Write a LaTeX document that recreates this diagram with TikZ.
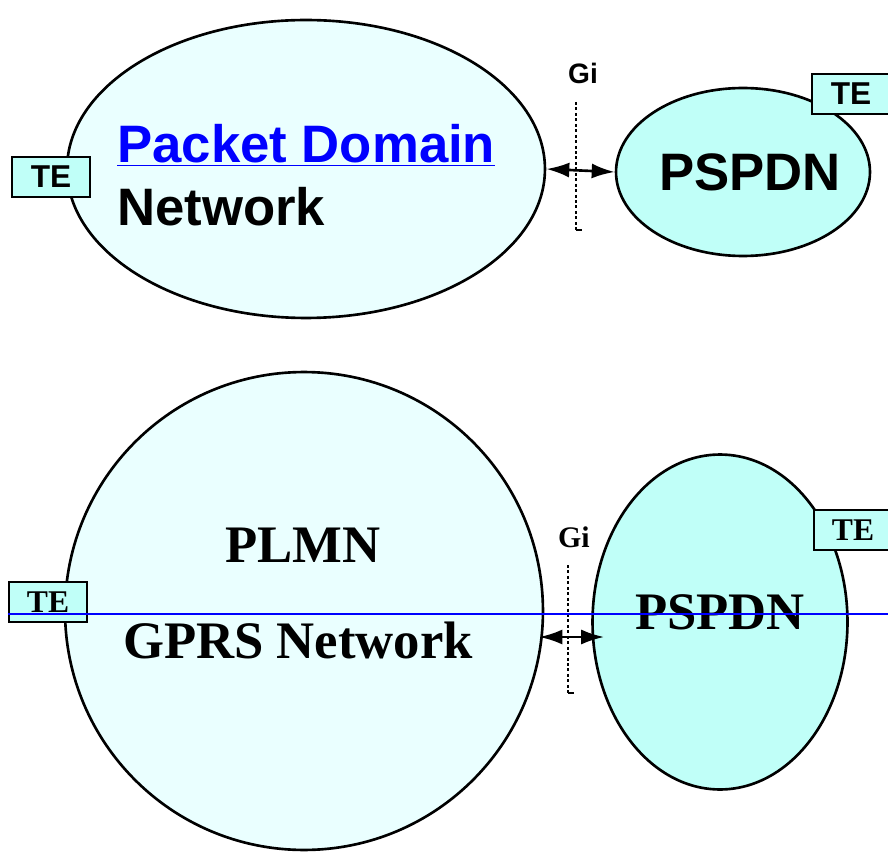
\documentclass[tikz,border=0pt]{standalone}
\usepackage{fontspec}
\setmainfont{Liberation Serif}
\setsansfont{Liberation Sans}
\usetikzlibrary{arrows.meta, positioning, shapes.geometric, calc}
\definecolor{netfill}{RGB}{234,255,255}
\definecolor{pdnfill}{RGB}{192,255,248}

\begin{document}
\begin{tikzpicture}[x=0.02cm, y=-0.02cm,
    net/.style={ellipse, draw, line width=1.5pt, fill=netfill, inner sep=0},
    pdn/.style={ellipse, draw, line width=1.5pt, fill=pdnfill, inner sep=0},
    tebox/.style={draw, line width=1.5pt, fill=pdnfill, minimum width=1.56cm, minimum height=0.8cm, inner sep=0},
    big/.style={font=\fontsize{30}{36}\selectfont\bfseries, inner sep=0},
    gidot/.style={dash pattern=on 1.7pt off 1.4pt, line width=1.5pt},
    gitick/.style={line width=1.5pt},
    giarrow/.style={{Latex[length=4.6mm,width=3mm]}-{Latex[length=4.6mm,width=3mm]}, line width=1.5pt}]
    \useasboundingbox (0,0) rectangle (888,854);

    % upper picture: Packet Domain
    \node[net, minimum width=9.56cm, minimum height=5.96cm] (pd) at (306,169) {};
    \node[pdn, minimum width=5.08cm, minimum height=3.36cm] (ps1) at (743,172) {};
    \node[big, font=\sffamily\fontsize{30}{36}\selectfont\bfseries, text=blue, anchor=west] (pdtxt) at (117,145) {\underline{Packet Domain}};
    \node[big, font=\sffamily\fontsize{30}{36}\selectfont\bfseries, anchor=west] (nwtxt) at (117,207) {Network};
    \node[big, font=\sffamily\fontsize{30}{36}\selectfont\bfseries] (ps1txt) at (750,172) {PSPDN};

    \node[font=\sffamily\fontsize{16}{19}\selectfont\bfseries] (gi1) at (583,73) {Gi};
    \draw[gidot] (576,102) -- (576,230);
    \draw[gitick] (575.5,230) -- (582,230);
    \draw[giarrow] (pd.east) -- (ps1.west);

    \node[tebox, font=\sffamily\fontsize{18}{21}\selectfont\bfseries] (te1) at (51,177) {TE};
    \node[tebox, font=\sffamily\fontsize{18}{21}\selectfont\bfseries] (te2) at (851,94) {TE};

    % lower picture: PLMN / GPRS
    \node[circle, draw, line width=1.5pt, fill=netfill, minimum size=9.56cm, inner sep=0] (plmn) at (304,611) {};
    \node[pdn, minimum width=5.1cm, minimum height=6.7cm] (ps2) at (720,622) {};
    \node[big] (plmntxt) at (303,545) {PLMN};
    \node[big] (gprstxt) at (298,640) {GPRS Network};
    \node[big] (ps2txt) at (720,612) {PSPDN};

    \node[font=\fontsize{17}{20}\selectfont\bfseries] (gi2) at (574,537) {Gi};
    \draw[gidot] (568,565) -- (568,693);
    \draw[gitick] (567.5,693) -- (574,693);
    \draw[giarrow] ([shift={(-5,26)}]plmn.east) -- ([shift={(13,15)}]ps2.west);

    \node[tebox, font=\fontsize{18}{21}\selectfont\bfseries] (te3) at (48,602) {TE};
    \node[tebox, font=\fontsize{18}{21}\selectfont\bfseries] (te4) at (853,530) {TE};

    \draw[blue, line width=1pt] (te3.west |- 0,614) -- (888,614);
\end{tikzpicture}
\end{document}
